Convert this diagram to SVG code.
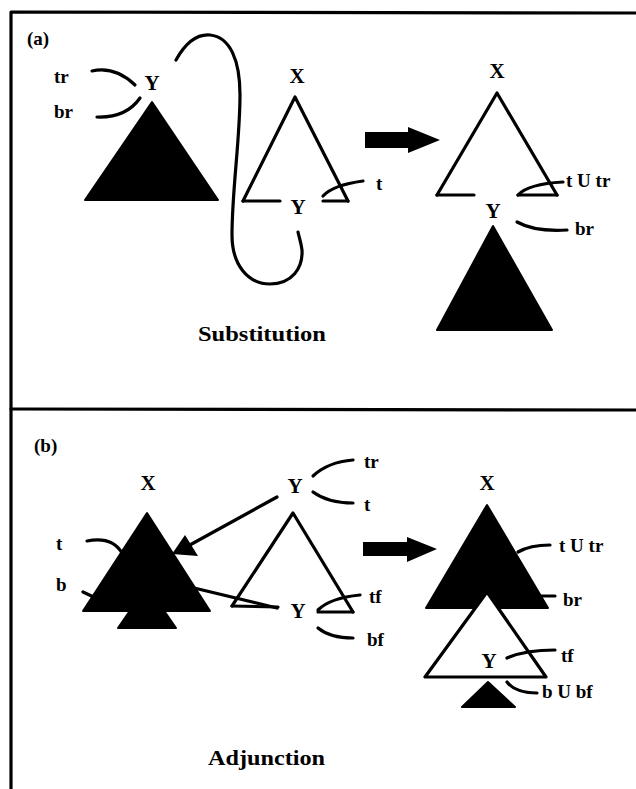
<svg xmlns="http://www.w3.org/2000/svg" width="636" height="789" viewBox="0 0 636 789">
<style>
text{font-family:"Liberation Serif","Times New Roman",serif;font-weight:bold;fill:#000}
.lab{font-size:19px}
.node{font-size:21px;text-anchor:middle}
.title{font-size:20px}
.ln{fill:none;stroke:#000;stroke-width:3.2;stroke-linecap:round;stroke-linejoin:round}
.blk{fill:#000;stroke:#000;stroke-width:2;stroke-linejoin:round}
.wht{fill:#fff;stroke:#000;stroke-width:3.2;stroke-linejoin:round}
</style>
<rect width="636" height="789" fill="#fff"/>
<g id="frame">
<path class="ln" d="M11,789 L11,12 L636,13"/>
<path class="ln" d="M11,409 L636,410"/>
</g>
<g id="panel-a">
<text class="lab" x="27" y="45">(a)</text>
<g id="a-left">
<text class="node" x="152" y="90">Y</text>
<polygon class="blk" points="152,102 85,200 218,200"/>
<text class="lab" x="54" y="83">tr</text>
<text class="lab" x="54" y="118">br</text>
</g>
<g id="a-mid">
<text class="node" x="297" y="83">X</text>
<path class="ln" d="M243,201 L295,97 L348,201"/>
<path class="ln" d="M243,201 L280,201 M323,201 L348,201"/>
<text class="node" x="298" y="214">Y</text>
<text class="lab" x="376" y="190">t</text>
</g>
<g id="a-right">
<text class="node" x="497" y="78">X</text>
<path class="ln" d="M437,195 L497,93 L557,195"/>
<path class="ln" d="M437,195 L474,195 M518,195 L557,195"/>
<text class="node" x="493" y="218">Y</text>
<polygon class="blk" points="493,226 437,330 552,330"/>
<text class="lab" x="566" y="187">t U tr</text>
<text class="lab" x="575" y="235">br</text>
</g>
<text class="title" x="198" y="341" textLength="128" lengthAdjust="spacingAndGlyphs">Substitution</text>
</g>
<g id="panel-b">
<text class="lab" x="34" y="452">(b)</text>
<g id="b-left">
<text class="node" x="148" y="490">X</text>
<path class="ln" d="M83,592 L100,600"/>
<path class="ln" d="M87,541 Q112,536 122,553"/>
<polygon class="blk" points="147,586 118,628 176,628"/>
<polygon class="blk" points="147,513 83,611 210,611"/>
<text class="lab" x="56" y="550">t</text>
<text class="lab" x="56" y="591">b</text>
</g>
<g id="b-mid">
<text class="node" x="295" y="493">Y</text>
<path class="ln" d="M232,606 L293,513 L353,612"/>
<path class="ln" d="M232,606 L278,607 M318,612 L353,612"/>
<text class="node" x="298" y="618">Y</text>
<text class="lab" x="364" y="468">tr</text>
<text class="lab" x="364" y="511">t</text>
<text class="lab" x="369" y="603">tf</text>
<text class="lab" x="367" y="646">bf</text>
</g>
<g id="b-right">
<text class="node" x="487" y="490">X</text>
<polygon class="blk" points="487,505 426,608 548,608"/>
<polygon class="wht" points="487,592 425,677 546,677"/>
<text class="node" x="489" y="668">Y</text>
<polygon class="blk" points="488,682 462,707 515,707"/>
<text class="lab" x="559" y="552">t U tr</text>
<text class="lab" x="563" y="606">br</text>
<text class="lab" x="561" y="662">tf</text>
<text class="lab" x="542" y="698">b U bf</text>
</g>
<text class="title" x="208" y="765" textLength="117" lengthAdjust="spacingAndGlyphs">Adjunction</text>
</g>
<g id="connectors">
<path class="ln" d="M92,71 Q115,66 135,85"/>
<path class="ln" d="M97,117 Q126,118 140,98"/>
<path class="ln" d="M176,60 C186,42 198,34 210,35 C230,37 240,60 240,95 C240,140 232,190 232,235 C232,265 248,284 270,284 C292,284 303,268 302,250 C301,242 299,237 298,232"/>
<path class="ln" d="M323,196 Q333,185 363,181"/>
<path class="ln" d="M518,195 Q528,184 563,182"/>
<path class="ln" d="M517,222 Q535,232 567,230"/>
<polygon fill="#000" points="365,132 408,132 408,127 440,140 408,153 408,148 365,148"/>
<path class="ln" d="M277,497 L188,546"/>
<polygon fill="#000" points="172,554 185,535 198,556"/>
<path class="ln" d="M277,608 L190,587"/>
<path class="ln" d="M313,476 Q328,462 353,460"/>
<path class="ln" d="M313,492 Q328,503 353,503"/>
<path class="ln" d="M318,610 Q330,598 360,595"/>
<path class="ln" d="M318,628 Q330,638 353,638"/>
<polygon fill="#000" points="363,542 407,542 407,537 437,549 407,562 407,556 363,556"/>
<path class="ln" d="M518,552 Q530,545 550,545"/>
<path class="ln" d="M540,596 L555,596"/>
<path class="ln" d="M507,658 Q525,650 555,650"/>
<path class="ln" d="M507,682 Q515,693 537,693"/>
</g>
</svg>
